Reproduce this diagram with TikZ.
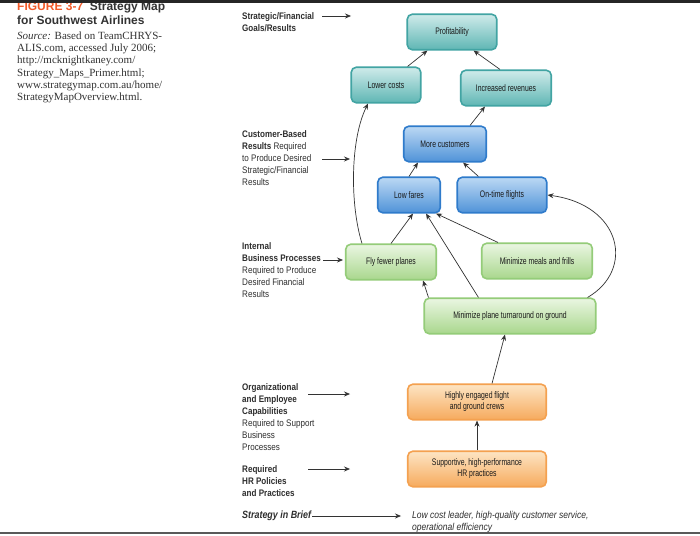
\documentclass[tikz,border=0pt]{standalone}
\usepackage{fontspec}
\setmainfont{Liberation Serif}
\newfontfamily\capsf{Liberation Sans}
\newfontfamily\lblsf[FakeStretch=0.85]{Liberation Sans}
\newfontfamily\boxsf[FakeStretch=0.72]{Liberation Sans}
\usetikzlibrary{arrows.meta}

\definecolor{tealtop}{HTML}{CFEBEA}
\definecolor{tealbot}{HTML}{5FB6B4}
\definecolor{tealline}{HTML}{42A4A3}
\definecolor{bluetop}{HTML}{BBD8F4}
\definecolor{bluebot}{HTML}{5093D8}
\definecolor{blueline}{HTML}{2F7BCB}
\definecolor{greentop}{HTML}{EAF6E2}
\definecolor{greenbot}{HTML}{A9D78D}
\definecolor{greenline}{HTML}{94CC79}
\definecolor{orangetop}{HTML}{FDE5C4}
\definecolor{orangebot}{HTML}{F6AA5D}
\definecolor{orangeline}{HTML}{F4A150}
\definecolor{figred}{HTML}{F15A29}
\definecolor{txtgray}{HTML}{2E2E2E}

\tikzset{
  box/.style={rounded corners=5pt, line width=1.6pt, align=center, inner sep=0pt,
    minimum height=35.5pt, text=black!90, font=\boxsf\fontsize{9.5}{11}\selectfont},
  goalbox/.style={box, draw=tealline, top color=tealtop, bottom color=tealbot},
  custbox/.style={box, draw=blueline, top color=bluetop, bottom color=bluebot},
  procbox/.style={box, draw=greenline, top color=greentop, bottom color=greenbot},
  hrbox/.style={box, draw=orangeline, top color=orangetop, bottom color=orangebot},
  arr/.style={-{Stealth[length=6pt,width=5pt]}, line width=0.7pt, draw=black!80},
  lbl/.style={anchor=north west, inner sep=0pt, align=left, text=txtgray,
    font=\lblsf\fontsize{9.5}{12}\selectfont},
}

\begin{document}
\begin{tikzpicture}[x=1pt,y=-1pt]
    \useasboundingbox[fill=white] (0,0) rectangle (700,535);

    % caption
    \node[anchor=north west, inner sep=0pt, align=left, text=black!80,
      font=\capsf\bfseries\fontsize{12}{14}\selectfont] (caption) at (17,2)
      {\textcolor{figred}{FIGURE 3-7}\ \ Strategy Map\\for Southwest Airlines};
    \node[anchor=north west, inner sep=0pt, align=left, text=black!80,
      font=\fontsize{11}{12.3}\selectfont] (source) at (17,31.5)
      {\textit{Source:} Based on TeamCHRYS-\\ALIS.com, accessed July 2006;\\http://mcknightkaney.com/\\Strategy\_Maps\_Primer.html;\\www.strategymap.com.au/home/\\StrategyMapOverview.html.};
    \fill[black!85] (0,0) rectangle (700,3);
    \fill[black!65] (0,531.5) rectangle (700,533.5);

    % perspective labels
    \node[lbl] (lstrat) at (242,12) {\textbf{Strategic/Financial}\\\textbf{Goals/Results}};
    \node[lbl] (lcust) at (242,130) {\textbf{Customer-Based}\\\textbf{Results} Required\\to Produce Desired\\Strategic/Financial\\Results};
    \node[lbl] (lproc) at (242,242) {\textbf{Internal}\\\textbf{Business Processes}\\Required to Produce\\Desired Financial\\Results};
    \node[lbl] (lorg) at (242,383) {\textbf{Organizational}\\\textbf{and Employee}\\\textbf{Capabilities}\\Required to Support\\Business\\Processes};
    \node[lbl] (lhr) at (242,465) {\textbf{Required}\\\textbf{HR Policies}\\\textbf{and Practices}};
    \node[lbl, anchor=west, font=\lblsf\bfseries\itshape\fontsize{10.5}{12}\selectfont] (brief) at (242,516) {Strategy in Brief};
    \node[lbl, font=\lblsf\itshape\fontsize{10}{12}\selectfont] (lowcost) at (412,511)
      {Low cost leader, high-quality customer service,\\operational efficiency};

    \foreach \y/\a/\b [count=\i] in {16/322/351, 159/322/350, 260/323/343, 394/308/350, 469/308/350} {
        \coordinate (s\i) at (\a,\y);
        \coordinate (e\i) at (\b,\y);
        \draw[arr] (s\i) -- (e\i);
      }
    \coordinate (briefend) at (401,516);
    \draw[arr] ([xshift=1pt]brief.east) -- (briefend);

    % boxes
    \node[goalbox, minimum width=89.5pt] (prof) at (452,32) {Profitability};
    \node[goalbox, minimum width=69.5pt] (lc) at (386,85) {Lower costs};
    \node[goalbox, minimum width=90.5pt] (ir) at (506,88) {Increased revenues};
    \node[custbox, minimum width=82.5pt] (mc) at (445,144) {More customers};
    \node[custbox, minimum width=62.5pt] (lf) at (409,195) {Low fares};
    \node[custbox, minimum width=89.5pt] (ot) at (502,195) {On-time flights};
    \node[procbox, minimum width=90.5pt] (fly) at (391,262) {Fly fewer planes};
    \node[procbox, minimum width=110.5pt] (meals) at (537,261) {Minimize meals and frills};
    \node[procbox, minimum width=171.5pt] (turn) at (510,316) {Minimize plane turnaround on ground};
    \node[hrbox, minimum width=138.5pt] (crew) at (477,402) {Highly engaged flight\\and ground crews};
    \node[hrbox, minimum width=138.5pt] (hrp) at (477,469) {Supportive, high-performance\\HR practices};

    % links
    \draw[arr] ([xshift=-14pt]lc.north east) -- ([xshift=21pt]prof.south west);
    \draw[arr] ([xshift=-6pt]ir.north) -- ([xshift=-24pt]prof.south east);
    \draw[arr] ([xshift=-17pt]mc.north east) -- ([xshift=25pt]ir.south west);
    \draw[arr] (lf.north) -- ([xshift=15pt]mc.south west);
    \draw[arr] ([xshift=22pt]ot.north west) -- ([xshift=-24pt]mc.south east);
    \draw[arr] (fly.north) -- ([xshift=4pt]lf.south);
    \draw[arr] ([xshift=55pt]turn.north west) -- ([xshift=-15pt]lf.south east);
    \draw[arr] ([xshift=17pt]meals.north west) -- ([xshift=-5pt]lf.south east);
    \draw[arr] ([xshift=5pt]turn.north west) -- ([xshift=-14pt]fly.south east);
    \draw[arr] ([xshift=-29pt]fly.north) .. controls (350,205) and (350,140) .. ([xshift=-18pt]lc.south);
    \draw[arr] ([xshift=-9pt]turn.north east) .. controls (635,270) and (622,205) .. (ot.east);
    \draw[arr] ([xshift=15pt]crew.north) -- ([xshift=-5pt]turn.south);
    \draw[arr] (hrp.north) -- (crew.south);
  \end{tikzpicture}
\end{document}
